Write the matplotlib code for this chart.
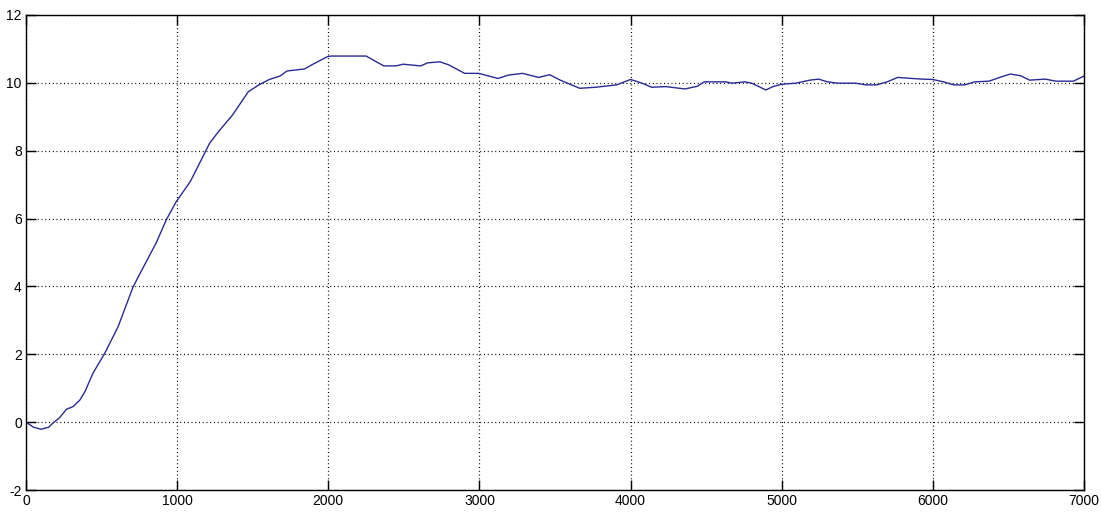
import numpy as np
import matplotlib.pyplot as plt

plt.rcParams['font.family'] = ['Liberation Sans', 'DejaVu Sans']
plt.rcParams['axes.unicode_minus'] = False

# response samples
t = [0, 50, 100, 150, 180, 220, 268, 312, 356, 390, 444, 521, 609, 708, 752,
     862, 929, 994, 1087, 1215, 1273, 1366, 1471, 1541, 1610, 1680, 1727,
     1843, 1890, 1994, 2018, 2250, 2367, 2448, 2495, 2611, 2658, 2739, 2797,
     2902, 2995, 3123, 3193, 3286, 3391, 3465, 3535, 3663, 3767, 3907, 4000,
     4070, 4140, 4233, 4360, 4442, 4488, 4628, 4674, 4756, 4802, 4895, 4942,
     5000, 5093, 5186, 5244, 5302, 5372, 5488, 5558, 5628, 5698, 5767, 5860,
     5930, 6000, 6070, 6140, 6209, 6279, 6372, 6442, 6512, 6581, 6640, 6744,
     6814, 6930, 7000]
y = [0.0, -0.15, -0.21, -0.15, -0.02, 0.12, 0.38, 0.46, 0.65, 0.9, 1.45,
     2.03, 2.81, 3.98, 4.36, 5.29, 5.97, 6.5, 7.09, 8.22, 8.56, 9.05, 9.74,
     9.94, 10.1, 10.2, 10.35, 10.41, 10.53, 10.77, 10.79, 10.79, 10.5, 10.5,
     10.55, 10.5, 10.59, 10.62, 10.53, 10.28, 10.28, 10.13, 10.23, 10.28,
     10.16, 10.24, 10.08, 9.84, 9.87, 9.94, 10.1, 10.0, 9.87, 9.89, 9.82,
     9.9, 10.03, 10.03, 9.99, 10.03, 9.99, 9.79, 9.89, 9.96, 9.99, 10.08,
     10.11, 10.03, 9.99, 9.99, 9.94, 9.94, 10.03, 10.16, 10.13, 10.11, 10.1,
     10.03, 9.94, 9.94, 10.03, 10.05, 10.16, 10.26, 10.21, 10.08, 10.11,
     10.05, 10.05, 10.2]

xticks = np.arange(0, 7001, 1000)
yticks = np.arange(-2, 13, 2)

fig = plt.figure(figsize=(11.01, 5.13), dpi=100)
ax = fig.add_axes([26/1101, 1 - 490/513, (1084-26)/1101, (490-15)/513])
ax.plot(t, y, color='#2a2a95', lw=1.0)

ax.set_xlim(0, 7000)
ax.set_ylim(-2, 12)
ax.set_xticks(xticks)
ax.set_yticks(yticks)
ax.grid(True, color='black', linestyle=(0, (0.8, 2.2)), lw=0.9)
ax.tick_params(direction='in', length=7, width=1, top=True, right=True,
               labelsize=10, pad=3)
for s in ax.spines.values():
    s.set_linewidth(1)

plt.savefig('out.png', dpi=100)
